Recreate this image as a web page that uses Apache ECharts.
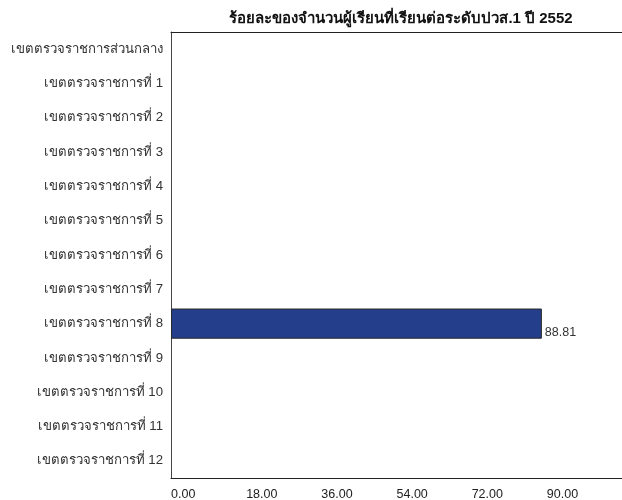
<!DOCTYPE html>
<html>
<head>
<meta charset="utf-8">
<script src="https://cdn.jsdelivr.net/npm/echarts@6/dist/echarts.min.js"></script>
<style>
  html, body { margin: 0; padding: 0; background: #fff; }
  #chart { width: 622px; height: 500px; }
</style>
</head>
<body>
<div id="chart"></div>
<script>
  var titleText = 'ร้อยละของจำนวนผู้เรียนที่เรียนต่อระดับปวส.1 ปี 2552'
  var categories = [
    'เขตตรวจราชการส่วนกลาง',
    'เขตตรวจราชการที่ 1',
    'เขตตรวจราชการที่ 2',
    'เขตตรวจราชการที่ 3',
    'เขตตรวจราชการที่ 4',
    'เขตตรวจราชการที่ 5',
    'เขตตรวจราชการที่ 6',
    'เขตตรวจราชการที่ 7',
    'เขตตรวจราชการที่ 8',
    'เขตตรวจราชการที่ 9',
    'เขตตรวจราชการที่ 10',
    'เขตตรวจราชการที่ 11',
    'เขตตรวจราชการที่ 12'
  ]
  var values = [null, null, null, null, null, null, null, null, 88.81, null, null, null, null]

  var chart = echarts.init(document.getElementById('chart'))
  var font = 'Liberation Sans, Arial, sans-serif'
  var frameLine = { show: true, lineStyle: { color: '#222', width: 1 } }

  var options = {
    animation: false,
    title: {
      text: titleText,
      left: 396,
      top: 6,
      textAlign: 'center',
      textStyle: { fontFamily: font, fontSize: 15, fontWeight: 'bold', color: '#111' }
    },
    grid: {
      left: 171,
      top: 32,
      width: 451,
      bottom: 22,
      containLabel: false,
      outerBoundsMode: 'none'
    },
    xAxis: [{
      type: 'value',
      position: 'bottom',
      min: 0,
      max: 108,
      interval: 18,
      axisLine: frameLine,
      axisTick: { show: false },
      splitLine: { show: false },
      axisLabel: {
        align: 'left',
        margin: 10,
        showMaxLabel: false,
        color: '#222',
        fontFamily: font,
        fontSize: 12.5,
        formatter: function (v) { return v.toFixed(2) }
      }
    }, {
      type: 'value',
      position: 'top',
      min: 0,
      max: 108,
      interval: 18,
      axisLine: frameLine,
      axisTick: { show: false },
      axisLabel: { show: false },
      splitLine: { show: false }
    }],
    yAxis: {
      type: 'category',
      inverse: true,
      data: categories,
      axisLine: { show: true, lineStyle: { color: '#444', width: 1 } },
      axisTick: { show: false },
      splitLine: { show: false },
      axisLabel: {
        margin: 8,
        color: '#333',
        fontFamily: font,
        fontSize: 13.2
      }
    },
    series: [{
      type: 'bar',
      xAxisIndex: 0,
      data: values,
      barCategoryGap: '12%',
      itemStyle: { color: '#253e8c', borderColor: '#2a2a2a', borderWidth: 1 },
      label: {
        show: true,
        position: 'right',
        distance: 3,
        offset: [0, 9],
        color: '#333',
        fontFamily: font,
        fontSize: 12.5,
        formatter: function (p) { return p.value.toFixed(2) }
      }
    }]
  }

  chart.setOption(options)
</script>
</body>
</html>
